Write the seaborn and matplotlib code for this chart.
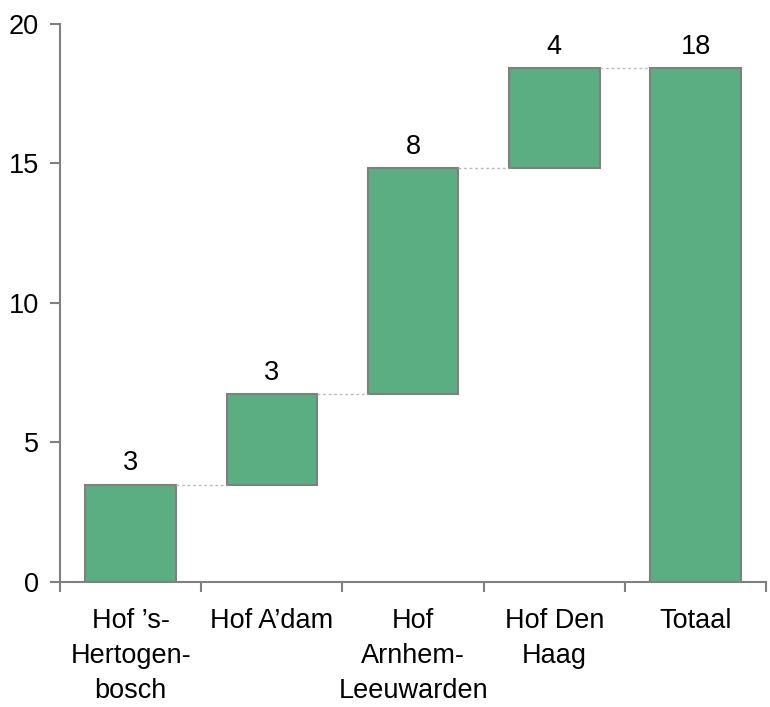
import matplotlib
matplotlib.use("Agg")
import matplotlib.pyplot as plt
import numpy as np
import pandas as pd
import seaborn as sns

categories = ["Hof \u2019s-\nHertogen-\nbosch", "Hof A\u2019dam", "Hof\nArnhem-\nLeeuwarden",
              "Hof Den\nHaag", "Totaal"]
steps = [3.48, 3.26, 8.1, 3.58]

# waterfall: floating steps plus a total bar
total = sum(steps)
heights = steps + [total]
bottoms = list(np.concatenate([[0], np.cumsum(steps)[:-1]])) + [0]
tops = [b + h for b, h in zip(bottoms, heights)]
labels = [f"{round(h):d}" for h in heights]

df = pd.DataFrame({"cat": categories, "height": heights})

sns.set_style("white")
plt.rcParams["font.family"] = ["Liberation Sans", "DejaVu Sans"]
plt.rcParams["text.color"] = "black"
plt.rcParams["xtick.labelcolor"] = "black"
plt.rcParams["ytick.labelcolor"] = "black"

fig = plt.figure(figsize=(7.7, 7.07), dpi=100)
ax = fig.add_axes([0.078, 0.177, 0.917, 0.789])

sns.barplot(data=df, x="cat", y="height", bottom=bottoms, color="#5BAE82",
            saturation=1, width=0.64, edgecolor="#808080", linewidth=1.5, ax=ax)

# dotted connectors between bar tops
for i in range(len(heights) - 1):
    ax.plot([i + 0.32, i + 1 - 0.32], [tops[i], tops[i]], ls=(0, (2, 2)),
            color="#BBBBBB", lw=1, zorder=1)

for i, (t, lab) in enumerate(zip(tops, labels)):
    ax.text(i, t + 0.3, lab, ha="center", va="bottom", fontsize=19.5)

ax.set_xlim(-0.5, 4.5)
ax.set_ylim(0, 20)
ax.set_yticks([0, 5, 10, 15, 20])
ax.set_xticks(np.arange(-0.5, 5, 1), minor=True)
ax.tick_params(axis="x", which="major", length=0, labelsize=19.5, pad=19)
for t in ax.get_xticklabels():
    t.set_linespacing(1.45)
ax.tick_params(axis="x", which="minor", length=7, width=1.5, color="#808080", direction="out", bottom=True)
ax.tick_params(axis="y", length=7, width=1.5, color="#808080", labelsize=19.5, pad=8, direction="out", left=True)
ax.set_xlabel("")
ax.set_ylabel("")
for s in ["top", "right"]:
    ax.spines[s].set_visible(False)
for s in ["left", "bottom"]:
    ax.spines[s].set_color("#808080")
    ax.spines[s].set_linewidth(1.5)

fig.savefig("out.png", dpi=100)
